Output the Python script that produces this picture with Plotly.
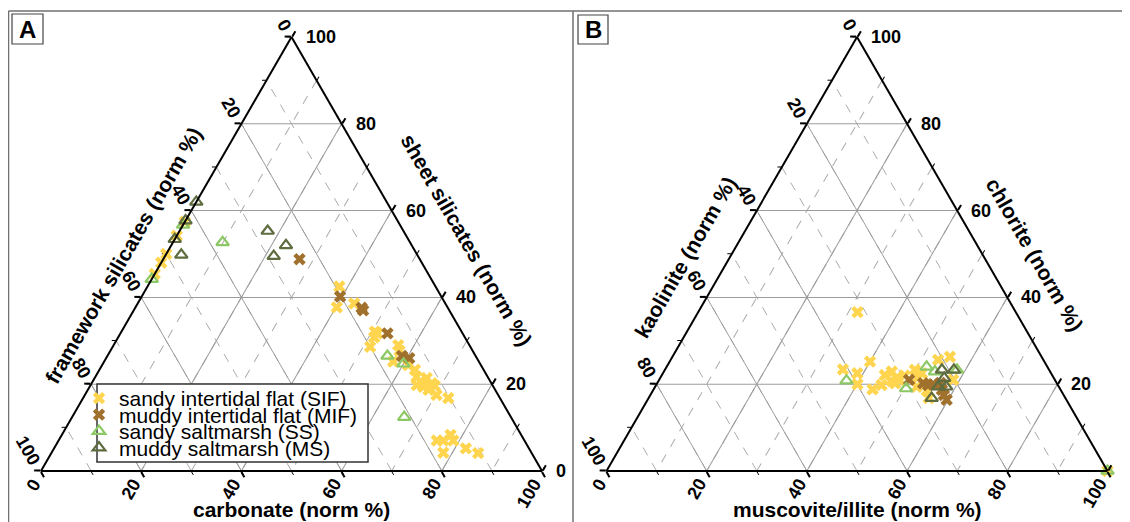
import plotly.graph_objects as go

# ---------------- Panel A : carbonate / sheet silicates / framework silicates (norm %)
A_SIF_carb = [0, 0, 0, 0, 0, 38.3, 40.2, 43.2, 50.6, 51.1, 51.4, 51.3, 56.8, 57.7, 57.7, 61.1, 63.0,
              64.1, 65.4, 66.3, 67.9, 66.6, 68.0, 68.8, 70.2, 72.9, 65.1, 75.5, 76.8, 77.6, 78.8, 78.2, 82.2, 85.2]
A_SIF_sheet = [57.4, 54.2, 50.0, 48.0, 45.4, 42.5, 37.7, 38.6, 32.1, 30.8, 28.6, 31.7, 29.0, 27.7, 25.2, 24.4, 23.3,
               21.7, 20.6, 21.4, 20.2, 19.4, 18.7, 19.6, 17.5, 16.8, 19.8, 7.0, 7.0, 8.3, 7.0, 4.2, 5.2, 4.1]
A_SIF_frame = [42.6, 45.8, 50.0, 52.0, 54.6, 19.2, 22.1, 18.2, 17.3, 18.1, 20.0, 17.0, 14.2, 14.6, 17.1, 14.5, 13.7,
               14.2, 14.0, 12.3, 11.9, 14.0, 13.3, 11.6, 12.3, 10.3, 15.1, 17.5, 16.2, 14.1, 14.2, 17.6, 12.6, 10.7]

A_MIF_carb = [27.2, 39.6, 45.2, 45.8, 53.3, 58.8, 60.5]
A_MIF_sheet = [48.8, 40.2, 37.6, 37.0, 31.7, 26.5, 26.0]
A_MIF_frame = [24.0, 20.2, 17.2, 17.2, 15.0, 14.7, 13.5]

A_SS_carb = [0, 0, 9.9, 55.9, 60.0, 66.3]
A_SS_sheet = [56.7, 44.2, 52.7, 26.5, 24.7, 12.4]
A_SS_frame = [43.3, 55.8, 37.4, 17.6, 15.3, 21.3]

A_MS_carb = [0, 0, 0, 3.1, 17.6, 22.9, 21.7]
A_MS_sheet = [62.0, 57.7, 53.4, 49.8, 55.3, 52.0, 49.5]
A_MS_frame = [38.0, 42.3, 46.6, 47.1, 27.1, 25.1, 28.8]

# ---------------- Panel B : muscovite/illite / chlorite / kaolinite (norm %)
B_SIF_mus = [31.8, 35.5, 38.8, 40.1, 40.0, 43.7, 45.0, 44.5, 45.5, 47.2, 47.5, 47.9, 49.9, 51.4, 51.7, 52.2,
             54.7, 55.9, 53.4, 55.4, 58.7, 48.5, 46.5, 100]
B_SIF_chl = [36.6, 23.4, 22.5, 20.0, 25.2, 18.8, 19.8, 22.1, 22.9, 21.4, 20.2, 21.0, 23.3, 21.6, 22.5, 19.4,
             18.5, 16.8, 25.6, 26.3, 21.0, 22.0, 20.8, 0]
B_SIF_kao = [31.6, 41.1, 38.7, 39.9, 34.8, 37.5, 35.2, 33.4, 31.6, 31.4, 32.3, 31.1, 26.8, 27.0, 25.8, 28.4,
             26.8, 27.3, 21.0, 18.3, 20.3, 29.5, 32.7, 0]

B_MIF_mus = [49.9, 53.1, 54.3, 55.2, 57.6, 58.6, 59.7, 56.5]
B_MIF_chl = [21.0, 20.2, 19.8, 20.0, 18.7, 17.5, 16.4, 20.3]
B_MIF_kao = [29.1, 26.7, 25.9, 24.8, 23.7, 23.9, 23.9, 23.2]

B_SS_mus = [37.5, 50.3, 51.9, 54.1, 58.3, 100]
B_SS_chl = [20.8, 19.0, 24.0, 22.9, 23.3, 0]
B_SS_kao = [41.7, 30.7, 24.1, 23.0, 18.4, 0]

B_MS_mus = [56.5, 55.3, 56.7, 56.5, 58.1, 57.7]
B_MS_chl = [16.8, 23.3, 21.4, 19.4, 19.4, 23.3]
B_MS_kao = [26.7, 21.4, 21.9, 24.1, 22.5, 19.0]

GROUP_NAMES = ["sandy intertidal flat (SIF)", "muddy intertidal flat (MIF)",
               "sandy saltmarsh (SS)", "muddy saltmarsh (MS)"]
GROUP_COLORS = ["#FFD54F", "#A0712C", "#8DC866", "#5E6C40"]
GROUP_SYMBOLS = ["x", "x", "triangle-up-open", "triangle-up-open"]

TICKS = [0, 20, 40, 60, 80, 100]

A_TITLES = ["framework silicates (norm %)", "sheet silicates (norm %)", "carbonate (norm %)"]
B_TITLES = ["kaolinite (norm %)", "chlorite (norm %)", "muscovite/illite (norm %)"]

# ---------------- page geometry (the page body has an 8 px margin)
OX, OY = 8, 8
FW, FH = 1130 - OX, 522 - OY
FONT = "Liberation Sans, Arial, sans-serif"


def px(x):
    return (x - OX) / FW


def py(y):
    return 1 - (y - OY) / FH


TOP, BOT = 37, 471
TRI_A = (41, 542)
TRI_B = (606.5, 1107.5)
SIN60, COS60 = 0.8660254, 0.5


def minor_axis(grid):
    return dict(
        tickmode="linear", tick0=0, dtick=10,
        ticks="outside", ticklen=4, tickwidth=1, tickcolor="black",
        showline=False, showgrid=grid, gridcolor="#ababab", gridwidth=1, griddash="dash",
        showticklabels=False, title=dict(text=""),
    )


def major_axis():
    return dict(
        tickmode="array", tickvals=TICKS,
        ticks="outside", ticklen=6, tickwidth=1.5, tickcolor="black",
        showline=True, linecolor="black", linewidth=2,
        showgrid=True, gridcolor="#9c9c9c", gridwidth=1,
        showticklabels=False, title=dict(text=""),
    )


def ternary_layout(tri, minor):
    return dict(
        sum=100, domain=dict(x=[px(tri[0]), px(tri[1])], y=[py(BOT), py(TOP)]),
        bgcolor="white" if minor else "rgba(0,0,0,0)",
        aaxis=minor_axis(False) if minor else major_axis(),
        baxis=minor_axis(True) if minor else major_axis(),
        caxis=minor_axis(True) if minor else major_axis(),
    )


fig = go.Figure()

# empty traces so that the underlay (minor dashed grid) ternaries are drawn
fig.add_trace(go.Scatterternary(a=[], b=[], c=[], subplot="ternary", showlegend=False, hoverinfo="skip"))
fig.add_trace(go.Scatterternary(a=[], b=[], c=[], subplot="ternary3", showlegend=False, hoverinfo="skip"))

A_groups = [(A_SIF_sheet, A_SIF_frame, A_SIF_carb), (A_MIF_sheet, A_MIF_frame, A_MIF_carb),
            (A_SS_sheet, A_SS_frame, A_SS_carb), (A_MS_sheet, A_MS_frame, A_MS_carb)]
B_groups = [(B_SIF_chl, B_SIF_kao, B_SIF_mus), (B_MIF_chl, B_MIF_kao, B_MIF_mus),
            (B_SS_chl, B_SS_kao, B_SS_mus), (B_MS_chl, B_MS_kao, B_MS_mus)]
LEGEND_IDS = ["legend", "legend2", "legend3", "legend4"]


def marker(i):
    if GROUP_SYMBOLS[i] == "x":
        return dict(symbol="x", size=11, color=GROUP_COLORS[i], line=dict(width=0))
    return dict(symbol="triangle-up-open", size=11, color=GROUP_COLORS[i],
                line=dict(width=2.2, color=GROUP_COLORS[i]))


for subplot, groups, show in (("ternary2", A_groups, True), ("ternary4", B_groups, False)):
    for i, (a, b, c) in enumerate(groups):
        fig.add_trace(go.Scatterternary(
            a=a, b=b, c=c, mode="markers", name=GROUP_NAMES[i], legendgroup=GROUP_NAMES[i],
            legend=LEGEND_IDS[i], showlegend=show, subplot=subplot, cliponaxis=False, marker=marker(i),
        ))

LINE = dict(color="#707070", width=1.5)
shapes = [
    dict(type="line", xref="paper", yref="paper", x0=px(8.5), x1=px(1130), y0=py(11), y1=py(11), line=LINE),
    dict(type="line", xref="paper", yref="paper", x0=px(8.5), x1=px(8.5), y0=py(11), y1=py(522), line=LINE),
    dict(type="line", xref="paper", yref="paper", x0=px(573), x1=px(573), y0=py(11), y1=py(522), line=LINE),
    dict(type="rect", xref="paper", yref="paper", x0=px(12), x1=px(43), y0=py(44), y1=py(14),
         line=dict(color="#444444", width=1.2)),
    dict(type="rect", xref="paper", yref="paper", x0=px(578), x1=px(608), y0=py(44), y1=py(15),
         line=dict(color="#444444", width=1.2)),
    # legend frame
    dict(type="rect", xref="paper", yref="paper", x0=px(97), x1=px(368), y0=py(462), y1=py(384),
         line=dict(color="#333333", width=1.5), fillcolor="white", layer="above"),
]


def ann(text, x, y, angle=0, size=21, xanchor="center", yanchor="middle"):
    return dict(text=text, x=px(x), y=py(y), xref="paper", yref="paper", showarrow=False,
                textangle=angle, xanchor=xanchor, yanchor=yanchor, borderpad=0,
                font=dict(family=FONT, size=size, color="black", weight="bold"))


annotations = [ann("A", 27.5, 29.5, size=24), ann("B", 593, 29.5, size=24)]


def axis_labels(tri, titles, title_pos):
    left, right = tri
    wt = right - left
    ht = BOT - TOP
    out = []
    for v in TICKS:
        # left edge: bottom-left component, 0 at the apex, 100 at the bottom-left corner
        f = (100 - v) / 100
        ex = left + f * wt / 2 - 6 * SIN60
        ey = BOT - f * ht - 6 * COS60
        out.append(ann(str(v), ex + 10, ey + 2, angle=60, size=18, xanchor="right", yanchor="bottom"))
        # bottom edge: bottom-right component, 0 at the left, 100 at the right
        bx = left + v / 100 * wt
        out.append(ann(str(v), bx + 5, BOT + 3, angle=-60, size=18, xanchor="right", yanchor="top"))
        # right edge: apex component, 0 at the bottom-right corner, 100 at the apex
        rx = right - v / 100 * wt / 2
        ry = BOT - v / 100 * ht
        out.append(ann(str(v), rx + 13, ry, size=18, xanchor="left"))
    (lx, ly), (rx, ry), (bx, by) = title_pos
    out.append(ann(titles[0], lx, ly, angle=-60))
    out.append(ann(titles[1], rx, ry, angle=60))
    out.append(ann(titles[2], bx, by))
    return out


annotations += axis_labels(TRI_A, A_TITLES, [(123, 255), (466, 240), (291.5, 509)])
annotations += axis_labels(TRI_B, B_TITLES, [(685, 257), (1035, 254), (857, 509)])

ROW_Y = [398.5, 415, 431.5, 448]
legends = {}
for i, lid in enumerate(LEGEND_IDS):
    legends[lid] = dict(x=px(79), y=py(ROW_Y[i]), xanchor="left", yanchor="middle",
                        bgcolor="rgba(0,0,0,0)", borderwidth=0,
                        font=dict(family=FONT, size=21, color="black"))

fig.update_layout(
    width=FW, height=FH, margin=dict(l=0, r=0, t=0, b=0),
    paper_bgcolor="white", plot_bgcolor="white",
    ternary=ternary_layout(TRI_A, True), ternary2=ternary_layout(TRI_A, False),
    ternary3=ternary_layout(TRI_B, True), ternary4=ternary_layout(TRI_B, False),
    shapes=shapes, annotations=annotations, showlegend=True,
    **legends,
)

fig.write_html("out.html")
